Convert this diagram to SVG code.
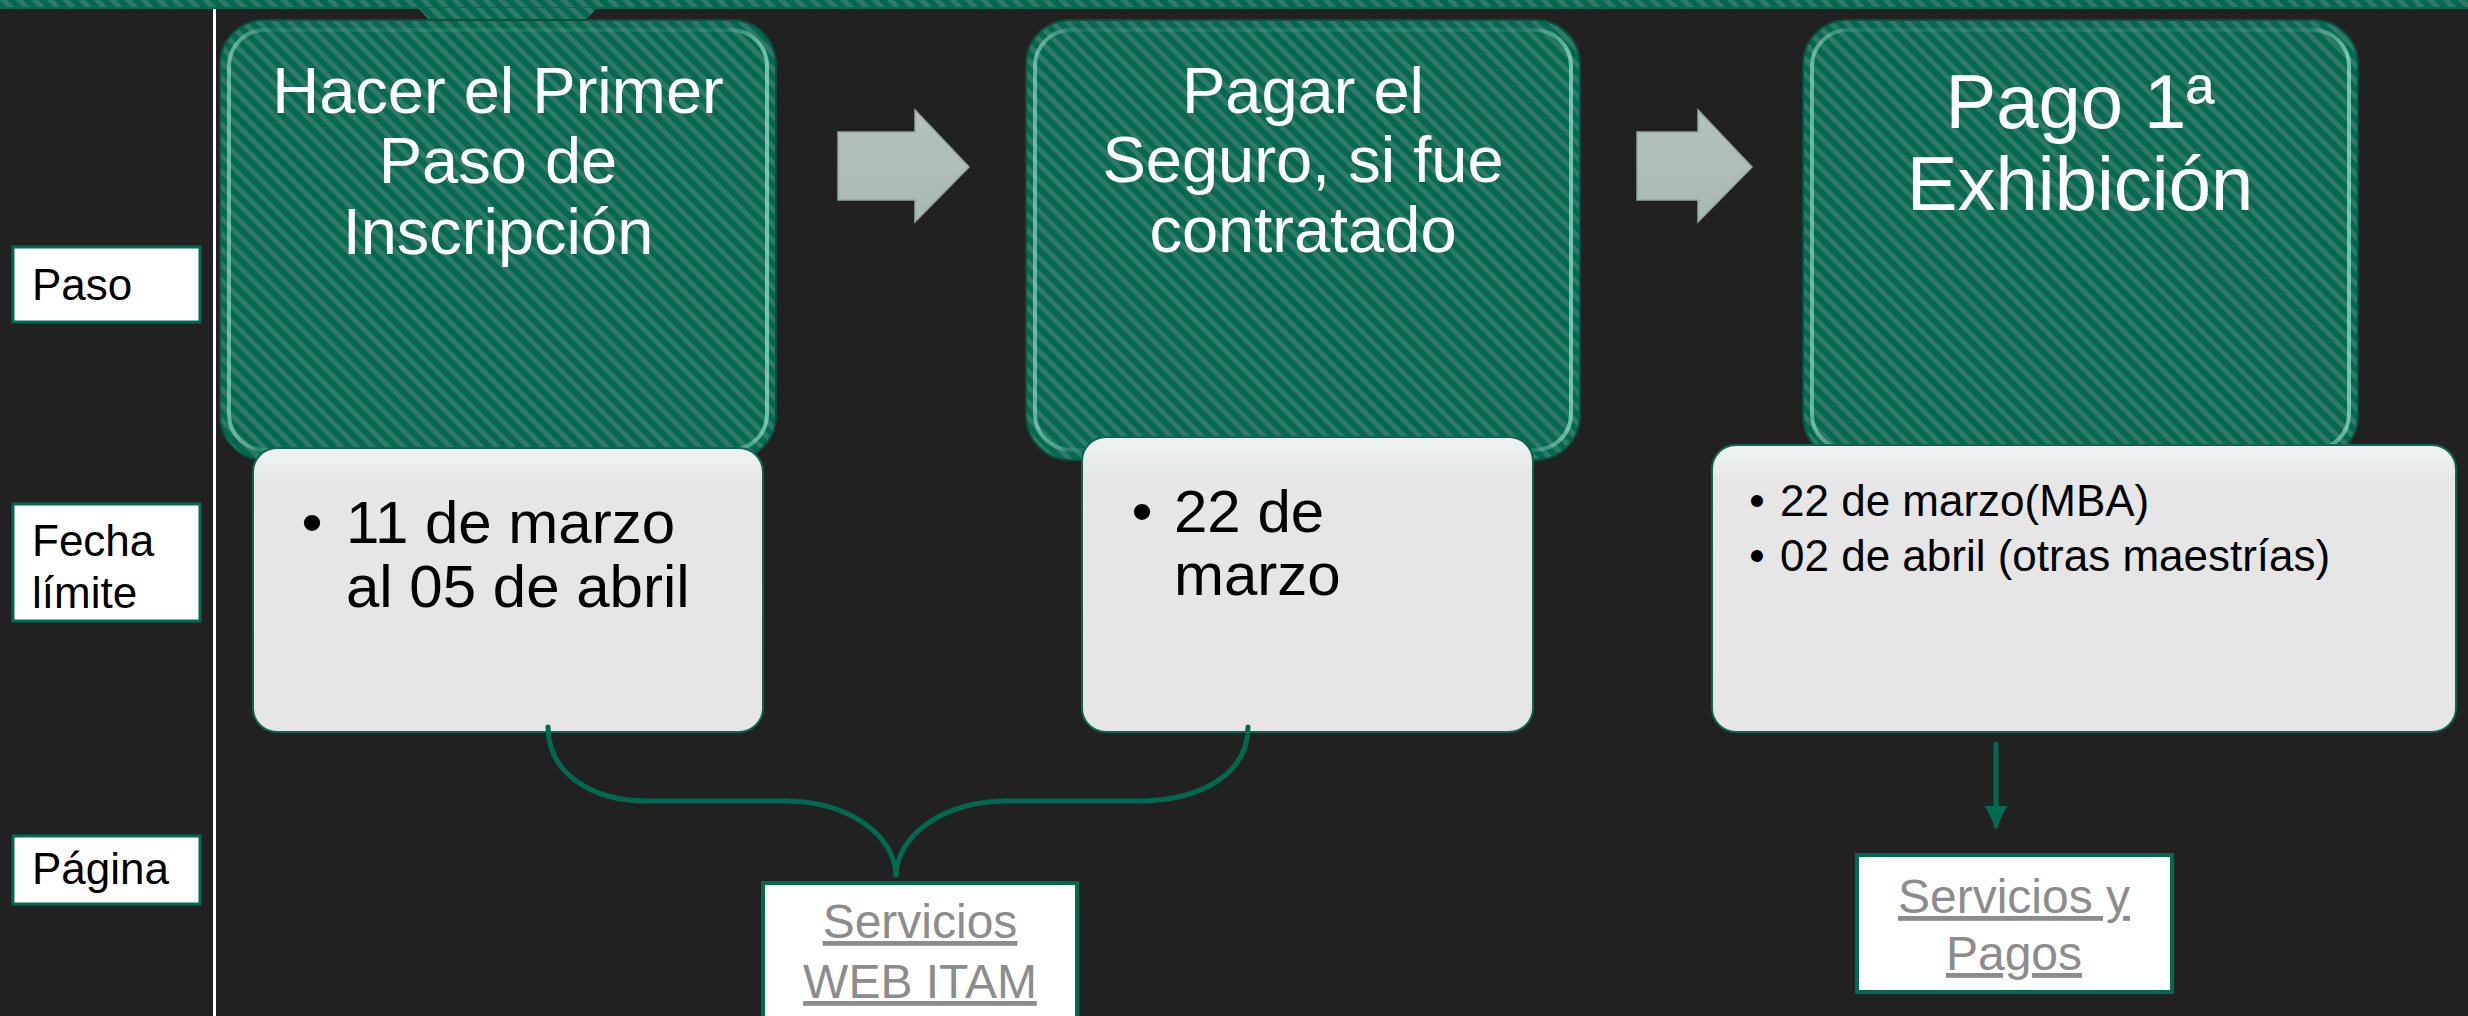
<svg xmlns="http://www.w3.org/2000/svg" width="2468" height="1016" viewBox="0 0 2468 1016">
<defs>
<pattern id="stripes" patternUnits="userSpaceOnUse" width="11" height="11" patternTransform="rotate(-45)">
<rect width="11" height="11" fill="#05694f"/>
<rect width="5" height="11" fill="#2f7a66"/>
</pattern>
<linearGradient id="greyTop" x1="0" y1="0" x2="0" y2="1">
<stop offset="0" stop-color="#eef4f3"/>
<stop offset="0.12" stop-color="#e6e6e6"/>
<stop offset="1" stop-color="#e5e5e5"/>
</linearGradient>
<linearGradient id="arrowFill" x1="0" y1="0" x2="0" y2="1">
<stop offset="0" stop-color="#b4c2bc"/>
<stop offset="1" stop-color="#a9b8b2"/>
</linearGradient>
<linearGradient id="bevelGrad" x1="0" y1="0" x2="1" y2="0">
<stop offset="0" stop-color="#9ae8d2" stop-opacity="0.6"/>
<stop offset="0.08" stop-color="#9ae8d2" stop-opacity="0.1"/>
<stop offset="0.92" stop-color="#9ae8d2" stop-opacity="0.1"/>
<stop offset="1" stop-color="#9ae8d2" stop-opacity="0.7"/>
</linearGradient>
<marker id="ah" viewBox="0 0 10 10" refX="9" refY="5" markerWidth="4.5" markerHeight="4.5" orient="auto" markerUnits="strokeWidth">
<path d="M0,0 L10,5 L0,10 z" fill="#006a4f"/>
</marker>
<style>
.step{fill:url(#stripes);stroke:#0b4f3e;stroke-width:2}
.bevel{fill:none;stroke:url(#bevelGrad);stroke-width:4}
.stepTxt{font-family:"Liberation Sans",Arial,sans-serif;fill:#ffffff;text-anchor:middle}
.date{fill:url(#greyTop);stroke:#0e6650;stroke-width:2}
.dateTxt{font-family:"Liberation Sans",Arial,sans-serif;fill:#000000}
.label{fill:#ffffff;stroke:#006b50;stroke-width:3}
.labelTxt{font-family:"Liberation Sans",Arial,sans-serif;fill:#000000;font-size:44px}
.page{fill:#ffffff;stroke:#006b4f;stroke-width:4}
.pageTxt{font-family:"Liberation Sans",Arial,sans-serif;fill:#8c8c8c;font-size:48px;text-anchor:middle;text-decoration:underline}
.blockArrow{fill:url(#arrowFill);stroke:#94a49e;stroke-width:1.5}
.conn{fill:none;stroke:#006a4f;stroke-width:5;stroke-linecap:round}
</style>
</defs>
<rect width="2468" height="1016" fill="#212121"/>
<g id="top-band">
<rect x="0" y="0" width="2468" height="8" fill="url(#stripes)"/>
<rect x="0" y="7" width="2468" height="2" fill="#006b50"/>
<polygon points="418,8 597,8 584,22 431,22" fill="url(#stripes)"/>
</g>
<rect id="divider" x="213" y="9" width="3" height="1007" fill="#ffffff"/>
<g id="label-paso">
<rect class="label" x="13" y="247" width="187" height="75"/>
<text class="labelTxt" x="32" y="300">Paso</text>
</g>
<g id="label-fecha">
<rect class="label" x="13" y="504" width="187" height="117"/>
<text class="labelTxt" x="32" y="556">Fecha</text>
<text class="labelTxt" x="32" y="608">límite</text>
</g>
<g id="label-pagina">
<rect class="label" x="13" y="836" width="187" height="68"/>
<text class="labelTxt" x="32" y="884">Página</text>
</g>
<g id="step1">
<rect class="step" x="220" y="20" width="556" height="440" rx="44"/>
<rect class="bevel" x="229" y="30" width="538" height="420" rx="36"/>
<text class="stepTxt" font-size="65" x="498" y="113">Hacer el Primer</text>
<text class="stepTxt" font-size="65" x="498" y="183">Paso de</text>
<text class="stepTxt" font-size="65" x="498" y="254">Inscripción</text>
</g>
<g id="step2">
<rect class="step" x="1026" y="20" width="554" height="440" rx="44"/>
<rect class="bevel" x="1035" y="30" width="536" height="420" rx="36"/>
<text class="stepTxt" font-size="65" x="1303" y="113">Pagar el</text>
<text class="stepTxt" font-size="65" x="1303" y="182">Seguro, si fue</text>
<text class="stepTxt" font-size="65" x="1303" y="252">contratado</text>
</g>
<g id="step3">
<rect class="step" x="1803" y="20" width="555" height="440" rx="44"/>
<rect class="bevel" x="1812" y="30" width="537" height="420" rx="36"/>
<text class="stepTxt" font-size="76" x="2080" y="128">Pago 1ª</text>
<text class="stepTxt" font-size="76" x="2080" y="210">Exhibición</text>
</g>
<g id="arrow1">
<polygon class="blockArrow" points="838,132 915,132 915,110 969,167 915,222 915,200 838,200"/>
</g>
<g id="arrow2">
<polygon class="blockArrow" points="1637,132 1698,132 1698,110 1752,167 1698,222 1698,200 1637,200"/>
</g>
<g id="date1">
<rect class="date" x="253" y="448" width="510" height="284" rx="24"/>
<text class="dateTxt" font-size="60" x="312" y="543" text-anchor="middle">•</text>
<text class="dateTxt" font-size="60" x="346" y="543">11 de marzo</text>
<text class="dateTxt" font-size="60" x="346" y="607">al 05 de abril</text>
</g>
<g id="date2">
<rect class="date" x="1082" y="437" width="451" height="295" rx="24"/>
<text class="dateTxt" font-size="60" x="1142" y="532" text-anchor="middle">•</text>
<text class="dateTxt" font-size="60" x="1174" y="532">22 de</text>
<text class="dateTxt" font-size="60" x="1174" y="595">marzo</text>
</g>
<g id="date3">
<rect class="date" x="1712" y="445" width="744" height="287" rx="24"/>
<text class="dateTxt" font-size="44" x="1757" y="516" text-anchor="middle">•</text>
<text class="dateTxt" font-size="44" x="1780" y="516">22 de marzo(MBA)</text>
<text class="dateTxt" font-size="44" x="1757" y="571" text-anchor="middle">•</text>
<text class="dateTxt" font-size="44" x="1780" y="571">02 de abril (otras maestrías)</text>
</g>
<g id="page1">
<rect class="page" x="763" y="883" width="314" height="150"/>
<text class="pageTxt" x="920" y="938">Servicios</text>
<text class="pageTxt" x="920" y="998">WEB ITAM</text>
</g>
<g id="page2">
<rect class="page" x="1857" y="855" width="315" height="137"/>
<text class="pageTxt" x="2014" y="913">Servicios y</text>
<text class="pageTxt" x="2014" y="970">Pagos</text>
</g>
<g id="connectors">
<path class="conn" d="M548,727 C548,772 590,801 647,801 L785,801 C848,801 896,835 896,877 C896,835 944,801 1007,801 L1137,801 C1204,801 1248,772 1248,727"/>
<line class="conn" x1="1996" y1="744" x2="1996" y2="826" marker-end="url(#ah)"/>
</g>
</svg>
